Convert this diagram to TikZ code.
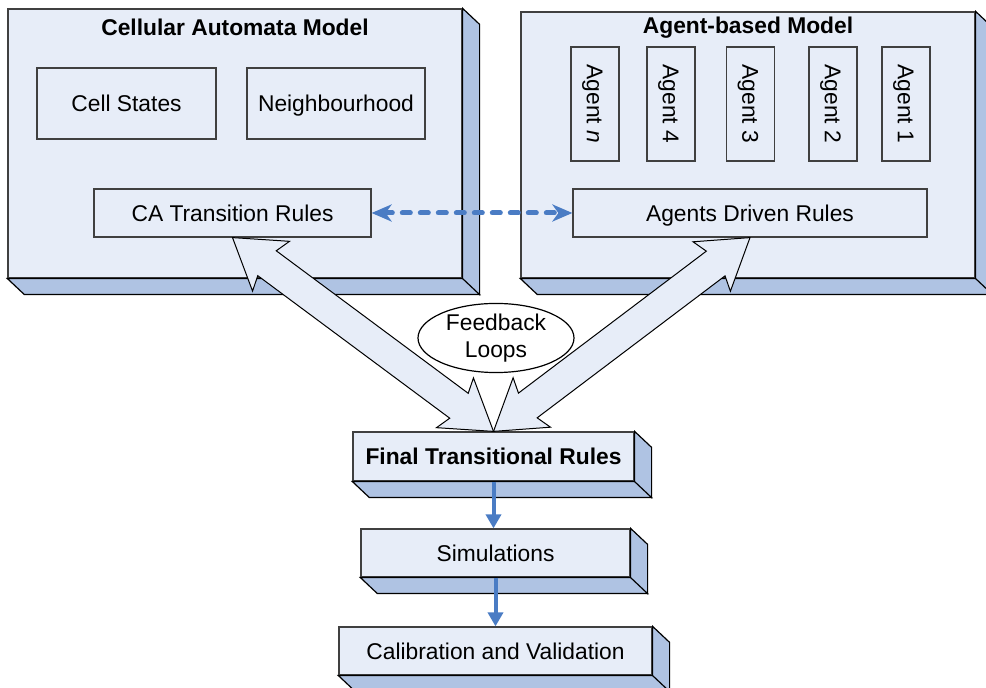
\documentclass[tikz,border=0pt]{standalone}
\usepackage{fontspec}
\setmainfont{Liberation Sans}
\usetikzlibrary{shapes.geometric,arrows.meta,calc}
\definecolor{facefill}{HTML}{E7EDF8}
\definecolor{sidefill}{HTML}{AFC3E3}
\definecolor{linkblue}{HTML}{4A7CC4}
\tikzset{
  txt/.style={font=\fontsize{11.4}{13.8}\selectfont},
  boldtxt/.style={font=\fontsize{11.4}{13.8}\selectfont\bfseries},
  slab/.style={draw=black!75, fill=facefill, line width=0.6pt, inner sep=0pt,
    text height=8.2pt, text depth=0pt},
  link/.style={linkblue, line width=2pt, -{Triangle[length=7pt,width=7.5pt]}},
}
\newcommand{\blockarrow}[2]{%
  \filldraw[fill=facefill, draw=black, line width=0.5pt]
    (#1) -- ($(#1)!24pt!(#2)!15.5pt!90:(#2)$) -- ($(#1)!21.5pt!(#2)!7.75pt!90:(#2)$)
    -- ($(#2)!21.5pt!(#1)!7.75pt!-90:(#1)$) -- ($(#2)!24pt!(#1)!15.5pt!-90:(#1)$)
    -- (#2) -- ($(#2)!24pt!(#1)!15.5pt!90:(#1)$) -- ($(#2)!21.5pt!(#1)!7.75pt!90:(#1)$)
    -- ($(#1)!21.5pt!(#2)!7.75pt!-90:(#2)$) -- ($(#1)!24pt!(#2)!15.5pt!-90:(#2)$) -- cycle;}
\begin{document}
\begin{tikzpicture}[x=0.5pt,y=-0.5pt]
    \useasboundingbox (0,0) rectangle (986,688);
    % outer models and the flow boxes
    \node[slab, minimum width=227pt, minimum height=134.5pt] (ca) at (235,143.5) {};
    \node[slab, minimum width=227pt, minimum height=133pt] (abm) at (748,145) {};
    \node[slab, boldtxt, minimum width=140.5pt, minimum height=24.5pt] (final) at (493.5,456.5) {Final Transitional Rules};
    \node[slab, txt, minimum width=134.5pt, minimum height=24pt] (sim) at (495.5,553) {Simulations};
    \node[slab, txt, minimum width=156.5pt, minimum height=24pt] (calib) at (495.5,651) {Calibration and Validation};
    \foreach \b in {ca,abm,final,sim,calib}{
      \filldraw[fill=sidefill, draw=black, line width=0.6pt]
        (\b.north east) -- ++(17,16) -- ($(\b.south east)+(17,16)$) -- (\b.south east) -- cycle
        (\b.south west) -- ++(17,16) -- ($(\b.south east)+(17,16)$) -- (\b.south east) -- cycle;
    }
    \node[boldtxt, anchor=base] (catitle) at (235,36) {Cellular Automata Model};
    \node[boldtxt, anchor=base] (abmtitle) at (748,34) {Agent-based Model};
    % inside the CA model
    \node[slab, txt, minimum width=89.5pt, minimum height=35.5pt] (cells) at (126.5,103.5) {Cell States};
    \node[slab, txt, minimum width=89pt, minimum height=35.5pt] (neigh) at (336,103.5) {Neighbourhood};
    \node[slab, txt, minimum width=138.5pt, minimum height=24pt] (carules) at (232.5,213) {CA Transition Rules};
    % inside the agent model
    \foreach \x/\lbl [count=\i] in {595/\textit{n}, 671/4, 750.5/3, 833/2, 906/1}
      \node[slab, txt, rotate=-90, minimum width=57pt, minimum height=24pt] (agent\i) at (\x,104) {Agent \lbl};
    \node[slab, txt, minimum width=177pt, minimum height=24pt] (abmrules) at (750,213) {Agents Driven Rules};
    % links
    \draw[linkblue, line width=2.5pt, dash pattern=on 4pt off 5pt, line cap=round,
      {Stealth[length=10pt,width=8.5pt,inset=3pt,line cap=butt]}-{Stealth[length=10pt,width=8.5pt,inset=3pt,line cap=butt]}]
      (carules.east) -- (abmrules.west);
    \blockarrow{carules.south}{final.north}
    \blockarrow{abmrules.south}{final.north}
    \node[ellipse, draw=black, fill=white, line width=0.6pt, txt, align=center, inner sep=0pt,
      minimum width=78pt, minimum height=33.5pt] (loops) at (496,338) {Feedback\\Loops};
    \draw[link] (final.south) -- (final.south |- sim.north);
    \draw[link] (sim.south) -- (sim.south |- calib.north);
\end{tikzpicture}
\end{document}
